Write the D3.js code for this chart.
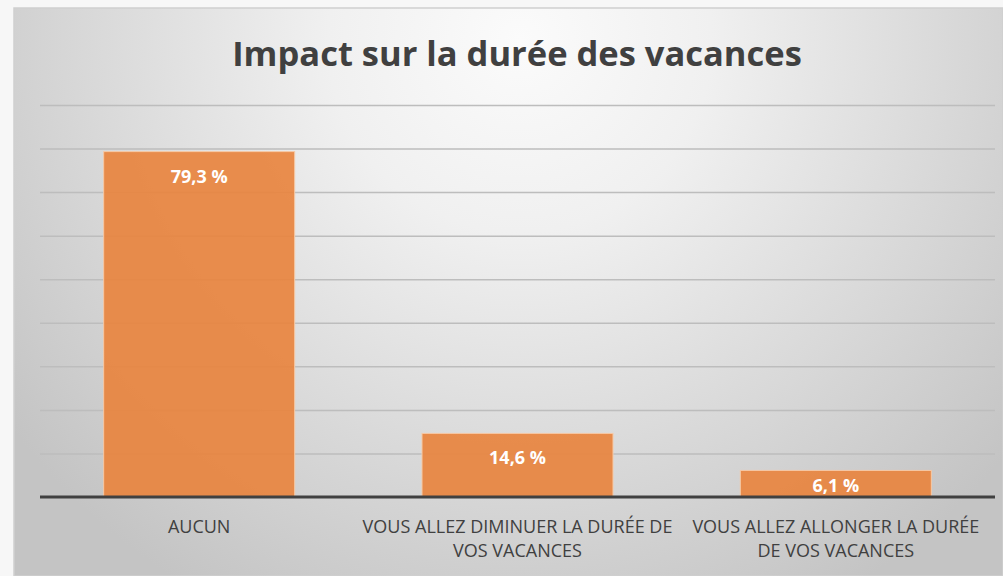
<!DOCTYPE html>
<head>
    <script src="https://d3js.org/d3.v7.min.js"></script>
    <style>
        body { margin: 0; background: #f7f7f7; }
        .grid line { stroke: #bdbdbd; stroke-width: 1.5px; }
        .grid path { display: none; }
        .xaxis path, .xaxis line { display: none; }
        .xaxis text { font: 18px "Open Sans", sans-serif; fill: #404040; }
    </style>
</head>
<body>
    <script>
        // Chart data
        var categories = ["AUCUN", "VOUS ALLEZ DIMINUER LA DURÉE DE|VOS VACANCES", "VOUS ALLEZ ALLONGER LA DURÉE|DE VOS VACANCES"];
        var values = [79.3, 14.6, 6.1];
        var valueLabels = ["79,3 %", "14,6 %", "6,1 %"];
        var gridTicks = [10, 20, 30, 40, 50, 60, 70, 80, 90];
        var title = "Impact sur la durée des vacances";

        var W = 1003, H = 576;
        var margin = { top: 105, right: 8, bottom: 79, left: 40 };
        var width = W - margin.left - margin.right;
        var height = H - margin.top - margin.bottom;

        var svg = d3.select("body").append("svg")
            .attr("width", W)
            .attr("height", H);

        // Background gradient for the chart area
        var defs = svg.append("defs");
        var grad = defs.append("radialGradient")
            .attr("id", "bg")
            .attr("gradientUnits", "userSpaceOnUse")
            .attr("cx", 520).attr("cy", 40).attr("r", 640);
        grad.append("stop").attr("offset", 0).attr("stop-color", "#fbfbfb");
        grad.append("stop").attr("offset", 0.3).attr("stop-color", "#f0f0f0");
        grad.append("stop").attr("offset", 1).attr("stop-color", "#c4c4c4");

        svg.append("rect")
            .attr("x", 14).attr("y", 8)
            .attr("width", W - 14).attr("height", H - 8)
            .attr("fill", "url(#bg)")
            .attr("stroke", "#cfcfcf")
            .attr("stroke-width", 1.5);

        svg.append("text")
            .attr("x", 517).attr("y", 66)
            .attr("text-anchor", "middle")
            .style("font", "bold 34.5px 'Open Sans', sans-serif")
            .style("fill", "#404040")
            .text(title);

        var g = svg.append("g")
            .attr("transform", "translate(" + margin.left + "," + margin.top + ")");

        var x = d3.scaleBand()
            .domain(categories)
            .range([0, width])
            .paddingInner(0.4)
            .paddingOuter(0.2);

        var y = d3.scaleLinear()
            .domain([0, 90])
            .range([height, 0]);

        // Gridlines
        g.append("g")
            .attr("class", "grid")
            .call(d3.axisLeft(y).tickValues(gridTicks).tickSize(-width).tickFormat(""));

        // Bars
        g.selectAll("rect.bar")
            .data(values)
            .enter().append("rect")
            .attr("class", "bar")
            .attr("x", function (d, i) { return x(categories[i]); })
            .attr("y", function (d) { return y(d); })
            .attr("width", x.bandwidth())
            .attr("height", function (d) { return height - y(d); })
            .attr("fill", "#e8843f")
            .attr("fill-opacity", 0.92)
            .attr("stroke", "#f6c9a6")
            .attr("stroke-width", 1);

        // Value labels inside the bars
        g.selectAll("text.val")
            .data(values)
            .enter().append("text")
            .attr("class", "val")
            .attr("x", function (d, i) { return x(categories[i]) + x.bandwidth() / 2; })
            .attr("y", function (d) { return Math.min(y(d) + 31, height - 5); })
            .attr("text-anchor", "middle")
            .style("font", "bold 18px 'Open Sans', sans-serif")
            .style("fill", "#ffffff")
            .text(function (d, i) { return valueLabels[i]; });

        // Baseline
        g.append("line")
            .attr("x1", 0).attr("x2", width)
            .attr("y1", height).attr("y2", height)
            .attr("stroke", "#404040")
            .attr("stroke-width", 3);

        // Category axis with wrapped labels
        var xAxis = g.append("g")
            .attr("class", "xaxis")
            .attr("transform", "translate(0," + height + ")")
            .call(d3.axisBottom(x).tickSize(0).tickFormat(""));

        xAxis.selectAll(".tick").each(function (d) {
            var t = d3.select(this).append("text")
                .attr("text-anchor", "middle");
            d.split("|").forEach(function (line, k) {
                t.append("tspan")
                    .attr("x", 0)
                    .attr("y", 36 + k * 24)
                    .text(line);
            });
        });
    </script>
</body>
